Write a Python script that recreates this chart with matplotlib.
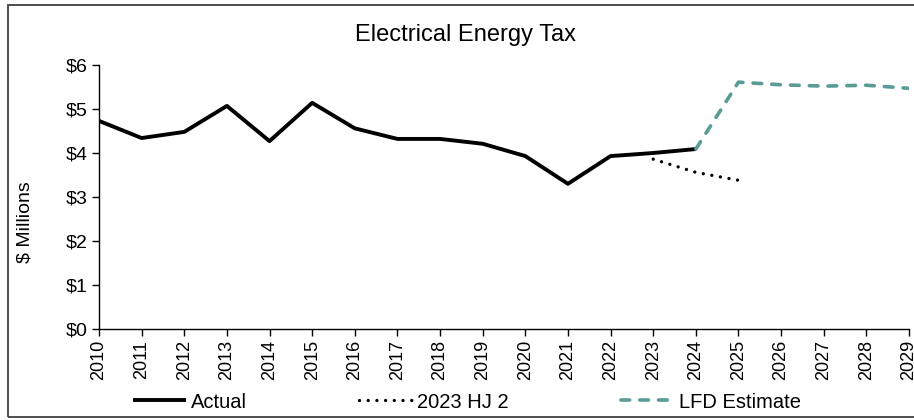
import matplotlib.pyplot as plt
from matplotlib.patches import Rectangle

plt.rcParams['font.family'] = ['Liberation Sans', 'DejaVu Sans']

years = list(range(2010, 2030))
actual_years = list(range(2010, 2025))
actual = [4.73, 4.34, 4.48, 5.07, 4.27, 5.14, 4.56, 4.32, 4.32, 4.21, 3.93, 3.30, 3.93, 4.00, 4.09]
hj2_years = [2023, 2024, 2025]
hj2 = [3.86, 3.56, 3.38]
lfd_years = [2024, 2025, 2026, 2027, 2028, 2029]
lfd = [4.09, 5.61, 5.55, 5.52, 5.54, 5.47]
yticks = [0, 1, 2, 3, 4, 5, 6]

fig = plt.figure(figsize=(9.14, 4.20), dpi=100)
ax = fig.add_axes([99 / 914, 1 - 329 / 420, 810 / 914, 264 / 420])

ax.plot(actual_years, actual, color='black', lw=2.8, label='Actual', solid_capstyle='butt')
ax.plot(hj2_years, hj2, color='black', lw=2.4, ls=(0, (0.01, 2.6)), dash_capstyle='round', label='2023 HJ 2')
ax.plot(lfd_years, lfd, color='#5b9b96', lw=2.6, ls=(0, (2.4, 2.8)), dash_capstyle='round', label='LFD Estimate')

ax.set_xlim(2010, 2029)
ax.set_ylim(0, 6)
ax.set_xticks(years)
ax.set_xticklabels([str(y) for y in years], rotation=90, fontsize=13)
ax.set_yticks(yticks)
ax.set_yticklabels(['$' + str(v) for v in yticks], fontsize=14)
ax.tick_params(direction='out', length=5, width=1, pad=3)
for side in ['top', 'right']:
    ax.spines[side].set_visible(False)
for side in ['left', 'bottom']:
    ax.spines[side].set_linewidth(1)

fig.text(25 / 914, 1 - 222 / 420, '$ Millions', rotation=90, ha='center', va='center', fontsize=14)
fig.text(466 / 914, 1 - 35 / 420, 'Electrical Energy Tax', ha='center', va='center', fontsize=17)

fig.legend(loc='center', bbox_to_anchor=(467 / 914, 1 - 402 / 420), ncol=3, frameon=False,
           fontsize=14.5, handlelength=2.6, handletextpad=0.25, columnspacing=5.6)

fig.patches.append(Rectangle((8 / 914, 3 / 420), 1.0, 412 / 420, transform=fig.transFigure,
                             fill=False, edgecolor='#404040', lw=1.3))

fig.savefig('out.png', dpi=100)
